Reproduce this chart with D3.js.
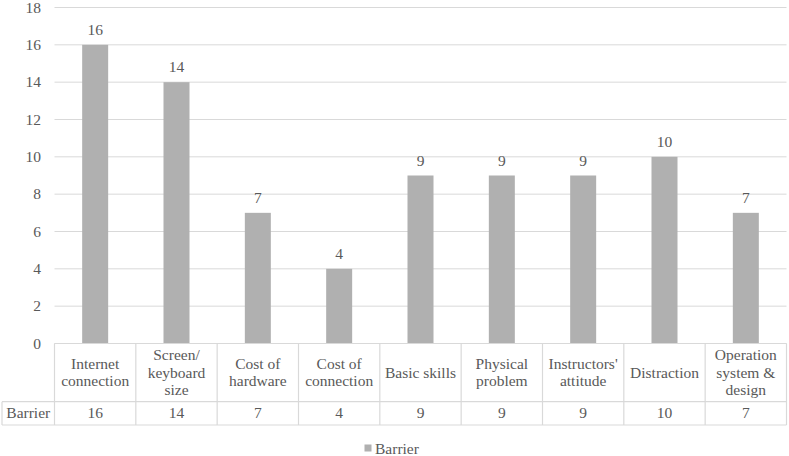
<!DOCTYPE html>
<html><head><meta charset="utf-8">
<script src="https://cdn.jsdelivr.net/npm/d3@7"></script>
<style>body{margin:0;background:#fff}svg{display:block}</style>
</head><body>
<svg id="c" width="789" height="456"></svg>
<script>
const categories = ["Internet connection","Screen/ keyboard size","Cost of hardware","Cost of connection","Basic skills","Physical problem","Instructors' attitude","Distraction","Operation system & design"];
const categoryLines = [["Internet","connection"],["Screen/","keyboard","size"],["Cost of","hardware"],["Cost of","connection"],["Basic skills"],["Physical","problem"],["Instructors'","attitude"],["Distraction"],["Operation","system &","design"]];
const seriesName = "Barrier";
const values = [16,14,7,4,9,9,9,10,7];
const yTicks = [0,2,4,6,8,10,12,14,16,18];

const svg = d3.select("#c");
const FF = "'Liberation Serif', 'Times New Roman', serif";
const txt = "#595959", grid = "#d9d9d9", barC = "#b0b0b0";
const fs = 15.5;
const L = 54.5, R = 786.5, T = 7.5, B = 343.5;
const x = d3.scaleBand().domain(categories).range([L, R]);
const y = d3.scaleLinear().domain([0,18]).range([B, T]);
function lbl(sel){ return sel.style("font-family", FF, "important").attr("font-size", fs).attr("fill", txt); }

// grid
svg.append("g").selectAll("line").data(yTicks).join("line")
  .attr("x1", L).attr("x2", R).attr("y1", d=>y(d)).attr("y2", d=>y(d))
  .attr("stroke", grid).attr("stroke-width", 1);
// y labels
svg.append("g").selectAll("text").data(yTicks).join("text")
  .attr("x", 41).attr("y", d=>y(d)+5).attr("text-anchor","end").call(lbl).text(d=>d);
// bars
const bw = 26;
svg.append("g").selectAll("rect").data(values).join("rect")
  .attr("x", (d,i)=>x(categories[i]) + x.bandwidth()/2 - bw/2)
  .attr("width", bw).attr("y", d=>y(d)).attr("height", d=>B - y(d)).attr("fill", barC);
// data labels
svg.append("g").selectAll("text").data(values).join("text")
  .attr("x", (d,i)=>x(categories[i]) + x.bandwidth()/2).attr("y", d=>y(d)-10)
  .attr("text-anchor","middle").call(lbl).text(d=>d);

// table
const rowMid = 401.7, rowBot = 425, tblL = 2;
const tg = svg.append("g").attr("stroke", grid).attr("stroke-width", 1.2);
tg.append("line").attr("x1", L).attr("x2", R).attr("y1", B).attr("y2", B);
tg.append("line").attr("x1", tblL).attr("x2", R).attr("y1", rowMid).attr("y2", rowMid);
tg.append("line").attr("x1", tblL).attr("x2", R).attr("y1", rowBot).attr("y2", rowBot);
tg.append("line").attr("x1", tblL).attr("x2", tblL).attr("y1", rowMid).attr("y2", rowBot);
const bounds = categories.map(c=>x(c)).concat([R]);
tg.selectAll("line.v").data(bounds).join("line").attr("class","v")
  .attr("x1", d=>d).attr("x2", d=>d).attr("y1", B).attr("y2", rowBot);

const lh = 17.5;
categories.forEach((c,i)=>{
  const lines = categoryLines[i];
  const cx = x(c) + x.bandwidth()/2;
  const cy = (B + rowMid)/2;
  const t = svg.append("text").attr("text-anchor","middle").call(lbl);
  lines.forEach((ln,j)=>{
    t.append("tspan").attr("x", cx).attr("y", cy + (j - (lines.length-1)/2)*lh + 5).text(ln);
  });
  svg.append("text").attr("x", cx).attr("y", (rowMid+rowBot)/2 + 5).attr("text-anchor","middle")
    .call(lbl).text(values[i]);
});
svg.append("text").attr("x", (tblL+L)/2).attr("y", (rowMid+rowBot)/2 + 5).attr("text-anchor","middle")
  .call(lbl).text(seriesName);

// legend
svg.append("rect").attr("x", 364.5).attr("y", 444.5).attr("width", 7).attr("height", 7).attr("fill", barC);
svg.append("text").attr("x", 375).attr("y", 454).call(lbl).text(seriesName);
</script>
</body></html>
